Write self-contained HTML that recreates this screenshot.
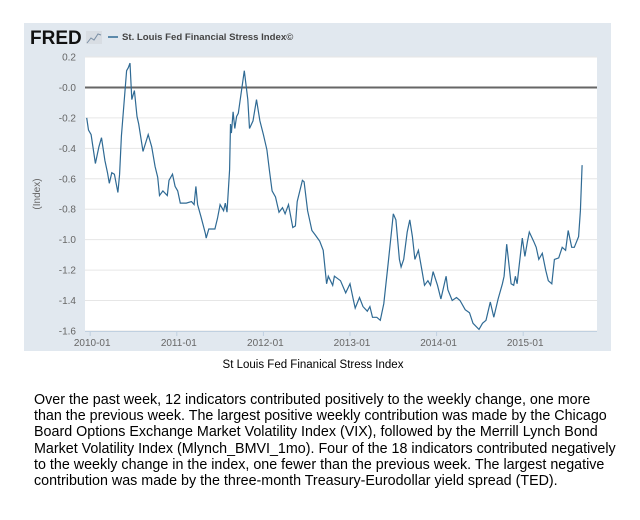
<!DOCTYPE html>
<html><head><meta charset="utf-8"><style>
html,body{margin:0;padding:0;background:#fff;width:640px;height:520px;overflow:hidden;font-family:"Liberation Sans",Arial,sans-serif;}
#p{position:absolute;left:34px;top:392px;font-size:14.3px;line-height:16.2px;color:#000;white-space:nowrap;}
</style></head><body>
<svg id="chart" width="640" height="380" style="position:absolute;left:0;top:0">
<rect x="24" y="23" width="587" height="328" fill="#e1e8ef"/>
<rect x="85" y="57" width="512" height="274" fill="#fff"/>
<g id="grid"></g>
<g id="axes"></g>
<path id="series" fill="none" stroke="#2f6a94" stroke-width="1.2"/>
<text x="30" y="44" font-size="19" font-weight="bold" fill="#111" font-family="Liberation Sans, sans-serif">FRED</text>
<g><rect x="86" y="31" width="16" height="13" fill="#d8dde3"/><polyline points="87,43 91,38 94,40 98,34 101,35" fill="none" stroke="#7a8fa5" stroke-width="1"/></g>
<line x1="108" y1="37" x2="118" y2="37" stroke="#2f6a94" stroke-width="1.5"/>
<text x="122" y="40" font-size="9.6" font-weight="bold" fill="#444">St. Louis Fed Financial Stress Index©</text>
<text transform="translate(40,194) rotate(-90)" font-size="10" fill="#666" text-anchor="middle">(Index)</text>
<text x="313" y="368" font-size="11.5" fill="#000" text-anchor="middle">St Louis Fed Finanical Stress Index</text>
</svg>
<div id="p">Over the past week, 12 indicators contributed positively to the weekly change, one more<br>than the previous week. The largest positive weekly contribution was made by the Chicago<br>Board Options Exchange Market Volatility Index (VIX), followed by the Merrill Lynch Bond<br>Market Volatility Index (Mlynch_BMVI_1mo). Four of the 18 indicators contributed negatively<br>to the weekly change in the index, one fewer than the previous week. The largest negative<br>contribution was made by the three-month Treasury-Eurodollar yield spread (TED).</div>
<script>
const years=[2009.96,2009.98,2010.01,2010.06,2010.10,2010.13,2010.17,2010.20,2010.22,2010.25,2010.28,2010.32,2010.34,2010.36,2010.42,2010.44,2010.46,2010.48,2010.51,2010.54,2010.56,2010.61,2010.67,2010.71,2010.75,2010.78,2010.80,2010.84,2010.89,2010.91,2010.95,2010.98,2011.01,2011.04,2011.11,2011.17,2011.20,2011.22,2011.24,2011.28,2011.33,2011.34,2011.37,2011.44,2011.47,2011.50,2011.54,2011.56,2011.58,2011.61,2011.62,2011.63,2011.65,2011.67,2011.69,2011.71,2011.78,2011.82,2011.84,2011.88,2011.92,2011.96,2012.00,2012.04,2012.07,2012.10,2012.14,2012.18,2012.22,2012.25,2012.29,2012.34,2012.37,2012.39,2012.45,2012.47,2012.51,2012.56,2012.60,2012.65,2012.69,2012.73,2012.75,2012.80,2012.82,2012.89,2012.95,2013.00,2013.04,2013.06,2013.11,2013.15,2013.20,2013.23,2013.26,2013.31,2013.35,2013.39,2013.44,2013.48,2013.50,2013.53,2013.57,2013.59,2013.62,2013.66,2013.69,2013.72,2013.75,2013.79,2013.83,2013.86,2013.90,2013.93,2013.96,2014.01,2014.05,2014.11,2014.13,2014.18,2014.23,2014.27,2014.33,2014.38,2014.42,2014.49,2014.53,2014.57,2014.62,2014.66,2014.71,2014.76,2014.78,2014.81,2014.86,2014.89,2014.91,2014.93,2014.99,2015.02,2015.05,2015.07,2015.12,2015.15,2015.18,2015.22,2015.26,2015.29,2015.33,2015.36,2015.41,2015.45,2015.49,2015.52,2015.56,2015.59,2015.64,2015.66,2015.68];
const values=[-0.20,-0.28,-0.31,-0.50,-0.39,-0.33,-0.48,-0.56,-0.63,-0.56,-0.57,-0.69,-0.57,-0.32,0.11,0.13,0.16,-0.08,-0.02,-0.19,-0.24,-0.42,-0.31,-0.39,-0.52,-0.59,-0.71,-0.68,-0.71,-0.61,-0.57,-0.65,-0.68,-0.76,-0.76,-0.75,-0.77,-0.65,-0.77,-0.85,-0.96,-0.99,-0.93,-0.93,-0.86,-0.77,-0.81,-0.76,-0.82,-0.54,-0.24,-0.30,-0.16,-0.27,-0.19,-0.17,0.11,-0.08,-0.27,-0.22,-0.08,-0.22,-0.31,-0.41,-0.55,-0.68,-0.72,-0.82,-0.79,-0.83,-0.77,-0.92,-0.91,-0.75,-0.61,-0.62,-0.81,-0.94,-0.97,-1.01,-1.07,-1.29,-1.24,-1.30,-1.24,-1.27,-1.35,-1.29,-1.40,-1.45,-1.38,-1.44,-1.47,-1.44,-1.51,-1.51,-1.53,-1.42,-1.16,-0.94,-0.83,-0.87,-1.13,-1.18,-1.13,-0.95,-0.87,-0.98,-1.13,-1.07,-1.20,-1.30,-1.27,-1.30,-1.21,-1.30,-1.39,-1.24,-1.33,-1.40,-1.38,-1.40,-1.46,-1.48,-1.55,-1.59,-1.55,-1.53,-1.41,-1.51,-1.39,-1.29,-1.24,-1.03,-1.29,-1.30,-1.24,-1.29,-0.99,-1.11,-1.01,-0.95,-1.01,-1.05,-1.13,-1.09,-1.20,-1.27,-1.29,-1.13,-1.12,-1.05,-1.07,-0.94,-1.05,-1.05,-0.98,-0.81,-0.51];
const yTicks=[0.2,0.0,-0.2,-0.4,-0.6,-0.8,-1.0,-1.2,-1.4,-1.6];
const yTickLabels=["0.2","-0.0","-0.2","-0.4","-0.6","-0.8","-1.0","-1.2","-1.4","-1.6"];
const xTicks=[2010,2011,2012,2013,2014,2015];
const xTickLabels=["2010-01","2011-01","2012-01","2013-01","2014-01","2015-01"];
const NS="http://www.w3.org/2000/svg";
function X(yr){return 90.2+(yr-2010)*86.6;}
function Y(v){return 57+(0.2-v)*152.2;}
const grid=document.getElementById('grid'),axes=document.getElementById('axes');
yTicks.forEach((t,i)=>{
 const l=document.createElementNS(NS,'line');
 
 
 l.setAttribute('x1',85);l.setAttribute('x2',597);l.setAttribute('y1',Y(t));l.setAttribute('y2',Y(t));
 l.setAttribute('stroke',t===0?'#666':'#e6e6e6');l.setAttribute('stroke-width',t===0?2:1);
 grid.appendChild(l);
 const tx=document.createElementNS(NS,'text');
 
 
 tx.setAttribute('x',76);tx.setAttribute('y',Y(t)+3.5);tx.setAttribute('text-anchor','end');
 tx.setAttribute('font-size','10');tx.setAttribute('fill','#666');tx.textContent=yTickLabels[i];
 axes.appendChild(tx);
});
const ax=document.createElementNS(NS,'line');


ax.setAttribute('x1',85);ax.setAttribute('x2',597);ax.setAttribute('y1',331.5);ax.setAttribute('y2',331.5);ax.setAttribute('stroke','#c0d0e0');
axes.appendChild(ax);
xTicks.forEach((t,i)=>{
 const l=document.createElementNS(NS,'line');
 
 
 l.setAttribute('x1',X(t));l.setAttribute('x2',X(t));l.setAttribute('y1',331);l.setAttribute('y2',336);l.setAttribute('stroke','#c0d0e0');
 axes.appendChild(l);
 const tx=document.createElementNS(NS,'text');
 
 
 tx.setAttribute('x',X(t)+2);tx.setAttribute('y',346);tx.setAttribute('text-anchor','middle');
 tx.setAttribute('font-size','10');tx.setAttribute('fill','#666');tx.textContent=xTickLabels[i];
 axes.appendChild(tx);
});
document.getElementById('series').setAttribute('d',years.map((y,i)=>(i?'L':'M')+X(y).toFixed(1)+','+Y(values[i]).toFixed(1)).join(''));
</script>
</body></html>
